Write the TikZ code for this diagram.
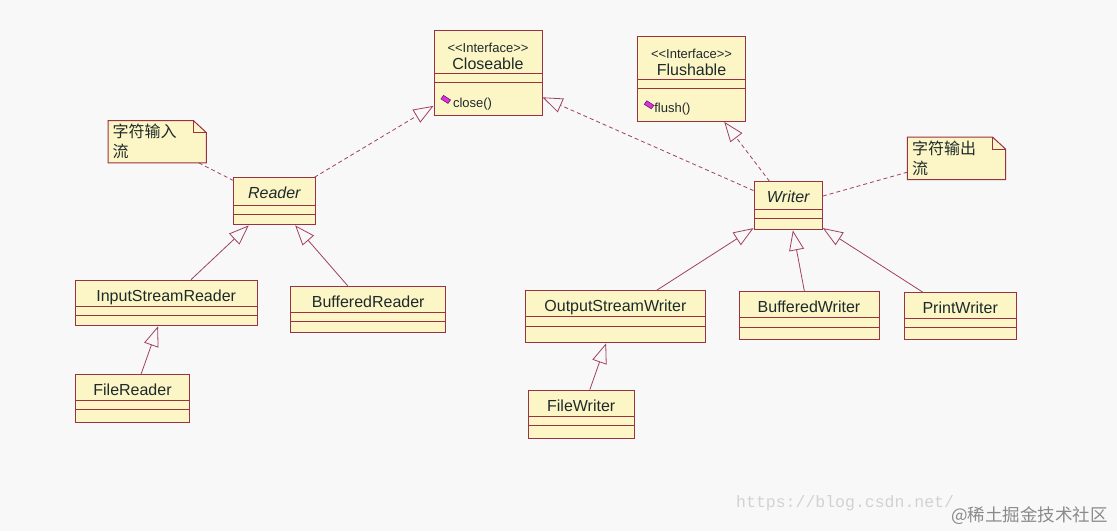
\documentclass[tikz,border=0pt]{standalone}
\usepackage{fontspec}
\setmainfont{Liberation Sans}
\newfontfamily\cjk{Noto Sans CJK SC}
\newfontfamily\mono{Liberation Mono}
\usetikzlibrary{shapes.multipart, arrows.meta}
\definecolor{lienzo}{HTML}{F8F8F8}
\definecolor{crema}{HTML}{FCF5C6}
\definecolor{granate}{HTML}{993344}
\definecolor{rosado}{HTML}{A0405F}
\definecolor{tinta}{HTML}{1E2A2A}
\definecolor{fucsia}{HTML}{E030E0}
\definecolor{ciruela}{HTML}{6A1A6A}
\definecolor{niebla}{HTML}{D2D2D2}
\definecolor{humo}{HTML}{8A8A8A}
\newcommand{\chica}{\fontsize{13}{15}\selectfont}
\newcommand{\cab}{\rule[-4.5pt]{0pt}{25pt}}
\newcommand{\caba}{\rule[-6pt]{0pt}{26.5pt}}

\begin{document}
\begin{tikzpicture}[x=1pt, y=-1pt,
		clase/.style={rectangle split, rectangle split parts=3, draw=granate, line width=1pt,
			fill=crema, text=tinta, inner sep=0pt, font=\fontsize{16}{17}\selectfont,
			rectangle split empty part height=8.3pt, rectangle split empty part depth=0pt},
		interfaz/.style={clase, align=center, rectangle split part align={center, center, left}},
		nota/.style={fill=crema, text=tinta, text width=89pt, align=left, inner xsep=4.4pt,
			inner ysep=0pt, minimum height=42pt, font=\cjk\fontsize{16}{20}\selectfont},
		hereda/.style={draw=rosado, line width=0.8pt, -{Triangle[open, length=20pt, width=15pt]}},
		realiza/.style={hereda, dash pattern=on 4pt off 3pt},
		enlace/.style={draw=rosado, line width=0.8pt, dash pattern=on 4pt off 3pt},
		icono/.style={fill=fucsia, draw=ciruela, line width=0.6pt}]
	\useasboundingbox[fill=lienzo] (0,0) rectangle (1117,531);
	% interfaces
	\node[interfaz, minimum width=108pt] (closeable) at (488,73.3)
		{\rule{0pt}{21.5pt}{\chica <\kern0pt<Interface>\kern0pt>}\\\rule[-3.4pt]{0pt}{3.4pt}Closeable
		\nodepart{two}\nodepart{three}\rule[-8pt]{0pt}{32pt}\hspace*{19pt}{\chica close()}};
	\node[interfaz, minimum width=108.4pt] (flushable) at (691.5,78.7)
		{\rule{0pt}{21.5pt}{\chica <\kern0pt<Interface>\kern0pt>}\\\rule[-3.4pt]{0pt}{3.4pt}Flushable
		\nodepart{two}\nodepart{three}\rule[-8pt]{0pt}{32pt}\hspace*{17pt}{\chica flush()}};
	\filldraw[icono] ([shift={(10pt,21pt)}]closeable.south west) -- ++(7,4.5) -- ++(-2.5,3.5) -- ++(-7,-4.5) -- cycle;
	\filldraw[icono] ([shift={(10pt,21pt)}]flushable.south west) -- ++(7,4.5) -- ++(-2.5,3.5) -- ++(-7,-4.5) -- cycle;
	% abstract classes
	\node[clase, minimum width=82pt] (reader) at (274.3,201.35)
		{\caba\itshape Reader\nodepart{two}\nodepart{three}\rule{0pt}{9.3pt}};
	\node[clase, minimum width=68.3pt] (writer) at (788.2,205.85)
		{\caba\itshape Writer\nodepart{two}\nodepart{three}\rule{0pt}{10.3pt}};
	% readers
	\node[clase, minimum width=182.3pt] (isr) at (166.2,303)
		{\cab InputStreamReader\nodepart{two}\nodepart{three}\rule{0pt}{9.3pt}};
	\node[clase, minimum width=155pt] (bufR) at (368.2,309.35)
		{\cab BufferedReader\nodepart{two}\nodepart{three}\rule{0pt}{10pt}};
	\node[clase, minimum width=113.6pt] (fileR) at (132.5,398.5)
		{\cab FileReader\nodepart{two}\nodepart{three}\rule{0pt}{11.7pt}};
	% writers
	\node[clase, minimum width=179.3pt] (osw) at (615.4,316.8)
		{\cab OutputStreamWriter\nodepart{two}\nodepart{three}\rule{0pt}{15.7pt}};
	\node[clase, minimum width=140pt] (bufW) at (809,315.45)
		{\cab BufferedWriter\nodepart{two}\nodepart{three}\rule{0pt}{11pt}};
	\node[clase, minimum width=111.7pt] (printW) at (960.2,316.15)
		{\cab PrintWriter\nodepart{two}\nodepart{three}\rule{0pt}{11pt}};
	\node[clase, minimum width=105.7pt] (fileW) at (581.2,414.2)
		{\cab FileWriter\nodepart{two}\nodepart{three}\rule{0pt}{11.7pt}};
	% notes
	\node[nota] (notaLee) at (157.2,141.7) {字符输入\\流};
	\node[nota] (notaEsc) at (956.5,158.3) {字符输出\\流};
	\fill[lienzo] ([xshift=-13pt]notaLee.north east) -- (notaLee.north east) -- ([yshift=-12pt]notaLee.north east) -- cycle;
	\draw[granate, line width=1pt] (notaLee.south west) -- (notaLee.north west) -- ([xshift=-13pt]notaLee.north east)
		-- ([yshift=-12pt]notaLee.north east) -- (notaLee.south east) -- cycle;
	\draw[granate, line width=0.8pt] ([xshift=-13pt]notaLee.north east) -- ([xshift=-13pt, yshift=-12pt]notaLee.north east)
		-- ([yshift=-12pt]notaLee.north east);
	\fill[lienzo] ([xshift=-13pt]notaEsc.north east) -- (notaEsc.north east) -- ([yshift=-12pt]notaEsc.north east) -- cycle;
	\draw[granate, line width=1pt] (notaEsc.south west) -- (notaEsc.north west) -- ([xshift=-13pt]notaEsc.north east)
		-- ([yshift=-12pt]notaEsc.north east) -- (notaEsc.south east) -- cycle;
	\draw[granate, line width=0.8pt] ([xshift=-13pt]notaEsc.north east) -- ([xshift=-13pt, yshift=-12pt]notaEsc.north east)
		-- ([yshift=-12pt]notaEsc.north east);
	% connectors
	\draw[realiza] (reader) -- (closeable);
	\draw[realiza] (writer) -- (closeable);
	\draw[realiza] (writer) -- (flushable);
	\draw[enlace] (notaLee) -- (reader);
	\draw[enlace] (writer) -- (notaEsc);
	\draw[hereda] (isr) -- (reader);
	\draw[hereda] (bufR) -- (reader);
	\draw[hereda] (fileR) -- (isr);
	\draw[hereda] (osw) -- (writer);
	\draw[hereda] (bufW) -- (writer);
	\draw[hereda] (printW) -- (writer);
	\draw[hereda] (fileW) -- (osw);
	% watermark
	\node[anchor=west, inner sep=0pt, text=niebla, font=\mono\fontsize{16.5}{18}\selectfont] (url) at (736,503) {https://blog.csdn.net/};
	\node[anchor=west, inner sep=0pt, text=humo, font=\cjk\fontsize{17.5}{19}\selectfont] (firma) at (951,516) {@稀土掘金技术社区};
\end{tikzpicture}
\end{document}
